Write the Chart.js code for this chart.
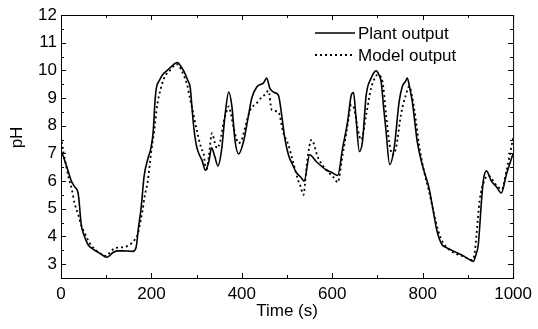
<!DOCTYPE html>
<html>
<head>
<meta charset="utf-8">
<script src="https://cdn.jsdelivr.net/npm/chart.js@4/dist/chart.umd.min.js"></script>
<style>
  html, body { margin: 0; padding: 0; background: #fff; }
  #wrap { width: 538px; height: 329px; }
</style>
</head>
<body>
<div id="wrap"><canvas id="chart"></canvas></div>
<script>
"use strict";

const plantTime = [0, 5, 15, 23, 30, 38, 45, 52, 60, 70, 80, 90, 100, 107, 115, 125, 137, 150, 159, 166, 172, 177, 184, 192, 199, 204, 208, 211, 218, 225, 235, 245, 252, 258, 265, 272, 280, 286, 290, 294, 300, 306, 312, 319, 327, 333, 340, 347, 355, 363, 371, 378, 385, 393, 404, 415, 422, 433, 448, 455, 462, 472, 481, 488, 495, 503, 512, 521, 530, 538, 550, 565, 587, 600, 612, 623, 634, 642, 647, 652, 660, 667, 675, 686, 697, 703, 708, 714, 719, 727, 737, 748, 755, 762, 766, 771, 777, 788, 799, 814, 821, 832, 843, 852, 862, 877, 890, 900, 912, 918, 923, 930, 934, 941, 952, 963, 974, 985, 1000];
const plantPH = [7.1, 6.9, 6.4, 6.0, 5.8, 5.55, 4.4, 4.0, 3.7, 3.55, 3.45, 3.35, 3.25, 3.3, 3.42, 3.48, 3.48, 3.47, 3.46, 3.6, 4.4, 5.0, 6.2, 6.8, 7.2, 7.8, 8.9, 9.36, 9.65, 9.85, 10.0, 10.15, 10.25, 10.28, 10.15, 9.96, 9.65, 9.36, 8.6, 7.9, 7.25, 6.95, 6.75, 6.4, 6.7, 7.2, 6.9, 6.55, 7.1, 8.4, 9.22, 8.7, 7.45, 6.98, 7.45, 8.4, 9.0, 9.4, 9.55, 9.72, 9.35, 9.2, 9.1, 8.4, 7.55, 6.95, 6.6, 6.3, 6.15, 6.0, 6.95, 6.7, 6.4, 6.3, 6.2, 7.2, 8.15, 9.1, 9.2, 8.4, 7.07, 7.45, 9.1, 9.72, 9.98, 9.85, 9.6, 8.6, 7.8, 6.6, 7.2, 8.88, 9.42, 9.6, 9.72, 9.4, 8.88, 7.43, 6.6, 5.75, 5.14, 4.18, 3.7, 3.6, 3.52, 3.4, 3.3, 3.2, 3.1, 3.35, 3.7, 5.26, 6.0, 6.37, 6.0, 5.8, 5.57, 6.23, 7.0];

const modelTime = [0, 5, 12, 18, 24, 30, 38, 45, 53, 62, 71, 85, 100, 110, 119, 130, 141, 152, 163, 170, 174, 180, 185, 192, 199, 206, 213, 220, 228, 242, 252, 257, 265, 272, 279, 285, 290, 301, 310, 316, 321, 327, 334, 340, 345, 352, 360, 366, 371, 376, 382, 393, 400, 407, 418, 433, 445, 451, 459, 466, 481, 491, 503, 514, 525, 530, 536, 545, 554, 569, 590, 605, 612, 623, 634, 642, 649, 656, 664, 675, 686, 695, 700, 711, 719, 726, 733, 741, 752, 763, 770, 781, 792, 803, 814, 829, 840, 855, 870, 890, 910, 915, 919, 926, 936, 945, 963, 975, 985, 1000];
const modelPH = [7.6, 7.1, 6.5, 6.05, 5.7, 5.2, 4.8, 4.4, 4.1, 3.8, 3.6, 3.4, 3.3, 3.45, 3.58, 3.6, 3.62, 3.7, 3.88, 4.1, 4.4, 4.9, 5.45, 6.0, 7.0, 7.8, 8.76, 9.3, 9.72, 10.02, 10.2, 10.22, 10.05, 9.8, 9.48, 9.0, 8.64, 7.79, 7.2, 6.95, 6.35, 6.9, 7.73, 7.4, 7.19, 7.43, 8.15, 8.5, 8.7, 8.4, 7.92, 7.37, 7.5, 7.92, 8.55, 8.82, 9.05, 9.12, 9.26, 8.58, 8.5, 7.79, 7.31, 6.65, 6.0, 5.8, 5.5, 6.8, 7.49, 6.83, 6.35, 6.1, 5.95, 6.95, 8.03, 8.76, 8.58, 7.92, 7.49, 8.4, 9.36, 9.75, 9.84, 9.6, 8.4, 7.43, 6.95, 7.19, 8.4, 9.12, 9.42, 8.64, 7.31, 6.35, 5.63, 4.54, 3.94, 3.58, 3.4, 3.28, 3.15, 3.4, 4.06, 5.3, 6.0, 6.2, 5.85, 5.7, 6.35, 7.55];

const xTickValues = [0, 200, 400, 600, 800, 1000];
const xMinorValues = [100, 300, 500, 700, 900];
const yTickValues = [3, 4, 5, 6, 7, 8, 9, 10, 11, 12];
const yMinorValues = [2.5, 3.5, 4.5, 5.5, 6.5, 7.5, 8.5, 9.5, 10.5, 11.5];
const legendLabels = ["Plant output", "Model output"];
const yTitle = "pH";

const FONT = "'Liberation Sans', Arial, sans-serif";

const toPoints = (xs, ys) => xs.map((x, i) => ({ x: x, y: ys[i] }));

// frame, inward ticks on all four sides, y title and the legend inside the plot
const framePlugin = {
    id: "frame",
    afterDraw(chart) {
        const { ctx, chartArea: a, scales } = chart;
        const xs = scales.x, ys = scales.y;
        ctx.save();
        ctx.strokeStyle = "#000";
        ctx.lineWidth = 1;
        ctx.strokeRect(a.left + 0.5, a.top + 0.5, a.right - a.left, a.bottom - a.top);

        const tick = (x1, y1, x2, y2) => {
            ctx.beginPath();
            ctx.moveTo(x1, y1);
            ctx.lineTo(x2, y2);
            ctx.stroke();
        };
        const xTick = (v, len) => {
            const px = Math.round(xs.getPixelForValue(v)) + 0.5;
            tick(px, a.bottom, px, a.bottom - len);
            tick(px, a.top, px, a.top + len);
        };
        const yTick = (v, len) => {
            const py = Math.round(ys.getPixelForValue(v)) + 0.5;
            tick(a.left, py, a.left + len, py);
            tick(a.right, py, a.right - len, py);
        };
        xTickValues.forEach(v => xTick(v, 5));
        xMinorValues.forEach(v => xTick(v, 3));
        yTickValues.forEach(v => yTick(v, 5));
        yMinorValues.forEach(v => yTick(v, 3));

        ctx.font = "17px " + FONT;
        ctx.fillStyle = "#000";

        // y title sits a little above the axis centre in the original
        ctx.save();
        ctx.translate(22, 137.5);
        ctx.rotate(-Math.PI / 2);
        ctx.textAlign = "center";
        ctx.textBaseline = "alphabetic";
        ctx.fillText(yTitle, 0, 0);
        ctx.restore();

        // legend
        const lx = 315, ly = 33, gap = 22;
        ctx.textBaseline = "middle";
        chart.data.datasets.forEach((ds, i) => {
            const y = ly + i * gap;
            ctx.lineWidth = ds.borderWidth;
            ctx.setLineDash(ds.borderDash || []);
            tick(lx, y, lx + 40, y);
            ctx.setLineDash([]);
            ctx.fillText(legendLabels[i], lx + 43, y + 1);
        });
        ctx.restore();
    }
};

const ctx = document.getElementById("chart").getContext("2d");

new Chart(ctx, {
    type: "line",
    data: {
        datasets: [
            {
                label: legendLabels[0],
                data: toPoints(plantTime, plantPH),
                borderColor: "#000",
                borderWidth: 1.6,
                pointRadius: 0,
                fill: false,
                cubicInterpolationMode: "monotone"
            },
            {
                label: legendLabels[1],
                data: toPoints(modelTime, modelPH),
                borderColor: "#000",
                borderWidth: 1.8,
                borderDash: [2, 3],
                pointRadius: 0,
                fill: false,
                cubicInterpolationMode: "monotone"
            }
        ]
    },
    options: {
        responsive: true,
        maintainAspectRatio: false,
        animation: false,
        layout: { padding: { top: 15, right: 22, left: 0, bottom: 0 } },
        plugins: {
            legend: { display: false },
            tooltip: { enabled: false }
        },
        scales: {
            x: {
                type: "linear",
                min: 0,
                max: 1000,
                afterBuildTicks: (axis) => { axis.ticks = xTickValues.map(v => ({ value: v })); },
                afterFit: (axis) => { axis.height = 51; },
                grid: { display: false, drawTicks: false },
                border: { display: false },
                ticks: {
                    color: "#000",
                    padding: 6,
                    maxRotation: 0,
                    callback: (v) => String(v),
                    font: { family: FONT, size: 17 }
                },
                title: {
                    display: true,
                    text: "Time (s)",
                    color: "#000",
                    font: { family: FONT, size: 17 },
                    padding: { top: 0, bottom: 7 }
                }
            },
            y: {
                type: "linear",
                min: 2.5,
                max: 12,
                afterBuildTicks: (axis) => { axis.ticks = yTickValues.map(v => ({ value: v })); },
                afterFit: (axis) => { axis.width = 61; },
                grid: { display: false, drawTicks: false },
                border: { display: false },
                ticks: {
                    color: "#000",
                    padding: 4,
                    callback: (v) => String(v),
                    font: { family: FONT, size: 17 }
                },
                title: { display: false }
            }
        }
    },
    plugins: [framePlugin]
});
</script>
</body>
</html>
